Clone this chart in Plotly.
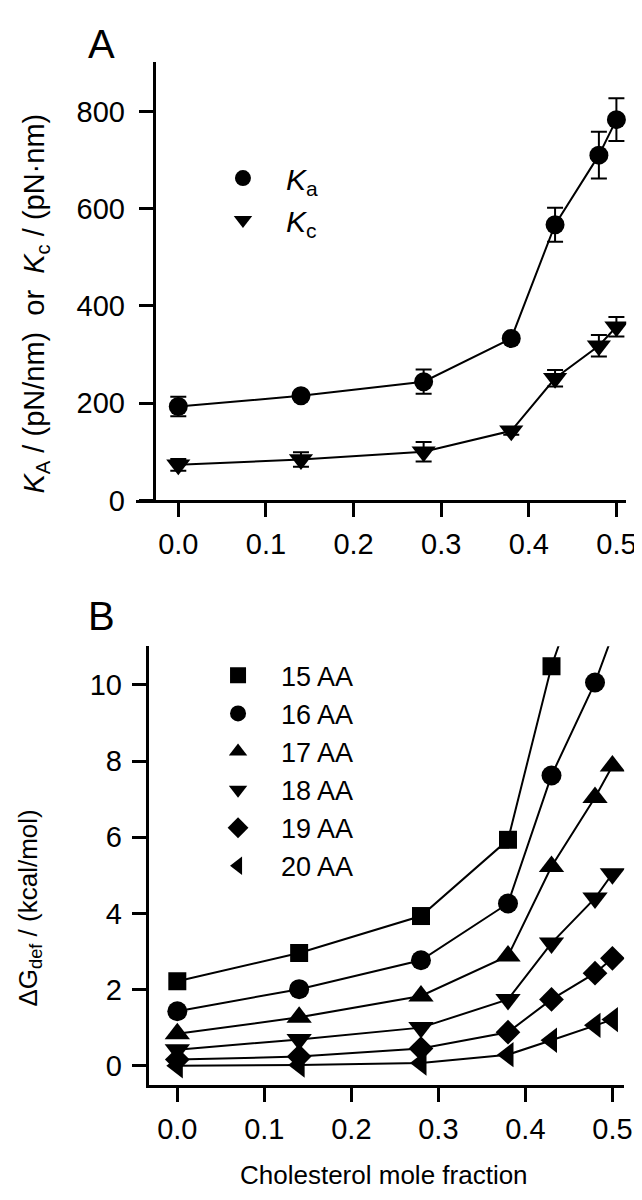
import plotly.graph_objects as go

# ---------------- data ----------------
chol = [0.0, 0.14, 0.28, 0.38, 0.43, 0.48, 0.50]

# Panel A
Ka = [193, 215, 244, 333, 567, 710, 783]
Ka_err = [20, 8, 25, 8, 35, 48, 44]
Kc = [73, 84, 100, 143, 251, 318, 357]
Kc_err = [12, 15, 20, 8, 17, 22, 20]

# Panel B (deformation free energy, kcal/mol)
names_B = ["15 AA", "16 AA", "17 AA", "18 AA", "19 AA", "20 AA"]
AA15 = [2.22, 2.96, 3.93, 5.93, 10.49, 13.7, 15.1]
AA16 = [1.43, 2.01, 2.77, 4.26, 7.62, 10.06, 11.3]
AA17 = [0.84, 1.27, 1.83, 2.88, 5.23, 7.04, 7.87]
AA18 = [0.42, 0.69, 1.00, 1.74, 3.22, 4.40, 5.04]
AA19 = [0.16, 0.24, 0.45, 0.88, 1.74, 2.43, 2.82]
AA20 = [0.00, 0.02, 0.07, 0.29, 0.67, 1.06, 1.21]
series_B = [AA15, AA16, AA17, AA18, AA19, AA20]
symbols_B = ["square", "circle", "triangle-up", "triangle-down", "diamond", "triangle-left"]

x_ticks = [0.0, 0.1, 0.2, 0.3, 0.4, 0.5]
yA_ticks = [0, 200, 400, 600, 800]
yB_ticks = [0, 2, 4, 6, 8, 10]

# ---------------- figure ----------------
W, H = 642, 1200
FONT = "Liberation Sans, Arial, sans-serif"
fig = go.Figure()

SIZES = {"square": 18, "circle": 20, "diamond": 19,
         "triangle-up": 22, "triangle-down": 22, "triangle-left": 22}

# Panel A traces
fig.add_trace(go.Scatter(
    x=chol, y=Ka, mode="lines+markers", xaxis="x", yaxis="y",
    line=dict(color="black", width=2),
    marker=dict(symbol="circle", size=19, color="black"),
    error_y=dict(type="data", array=Ka_err, color="black", thickness=2, width=8),
    showlegend=False))
fig.add_trace(go.Scatter(
    x=chol, y=Kc, mode="lines+markers", xaxis="x", yaxis="y",
    line=dict(color="black", width=2),
    marker=dict(symbol="triangle-down", size=21, color="black"),
    error_y=dict(type="data", array=Kc_err, color="black", thickness=2, width=8),
    showlegend=False))
# legend-only entries for panel A
for sym, nm in [("circle", "<i>K</i><sub>a</sub>"), ("triangle-down", "<i>K</i><sub>c</sub>")]:
    fig.add_trace(go.Scatter(x=[None], y=[None], mode="markers", xaxis="x", yaxis="y",
                             marker=dict(symbol=sym, size=SIZES[sym], color="black"),
                             name=nm, legend="legend", showlegend=True))

# Panel B traces
for vals, sym, nm in zip(series_B, symbols_B, names_B):
    fig.add_trace(go.Scatter(
        x=chol, y=vals, mode="lines+markers", xaxis="x2", yaxis="y2",
        line=dict(color="black", width=2),
        marker=dict(symbol=sym, size=SIZES[sym], color="black"),
        showlegend=False))
for sym, nm in zip(symbols_B, names_B):
    fig.add_trace(go.Scatter(x=[None], y=[None], mode="markers", xaxis="x2", yaxis="y2",
                             marker=dict(symbol=sym, size=SIZES[sym], color="black"),
                             name=nm, legend="legend2", showlegend=True))

axis_common = dict(showline=True, linecolor="black", linewidth=3, ticks="outside",
                   ticklen=14, tickwidth=3, tickcolor="black", showgrid=False,
                   zeroline=False, tickfont=dict(family=FONT, size=29, color="black"))

def ann(text, px, py, size, angle=0):
    return dict(text=text, x=px / W, y=1 - py / H, xref="paper", yref="paper",
                xanchor="center", yanchor="middle", textangle=angle,
                showarrow=False, font=dict(family=FONT, size=size, color="black"))

fig.update_layout(
    width=W, height=H,
    margin=dict(l=0, r=0, t=0, b=0),
    paper_bgcolor="white", plot_bgcolor="white",
    xaxis=dict(domain=[130 / W, 628 / W], range=[-0.0483, 0.5112], anchor="y",
               tickvals=x_ticks, tickformat=".1f", ticklabelstandoff=2, **axis_common),
    yaxis=dict(domain=[1 - 499 / H, 1 - 55 / H], range=[0, 901], anchor="free",
               position=148 / W, tickvals=yA_ticks, ticklabelstandoff=8, **axis_common),
    xaxis2=dict(domain=[143 / W, 626 / W], range=[-0.0328, 0.5136], anchor="y2",
                tickvals=x_ticks, tickformat=".1f", ticklabelstandoff=2, **axis_common),
    yaxis2=dict(domain=[1 - 1092 / H, 1 - 647 / H], range=[-0.518, 11.01], anchor="x2",
                tickvals=yB_ticks, ticklabelstandoff=4, **axis_common),
    legend=dict(x=195 / W, y=1 - 146 / H, xanchor="left", yanchor="top",
                bgcolor="rgba(0,0,0,0)", borderwidth=0, itemwidth=76,
                itemsizing="trace", tracegroupgap=0,
                font=dict(family=FONT, size=30, color="black")),
    legend2=dict(x=190 / W, y=1 - 652 / H, xanchor="left", yanchor="top",
                 bgcolor="rgba(0,0,0,0)", borderwidth=0, itemwidth=76,
                 itemsizing="trace", tracegroupgap=0,
                 font=dict(family=FONT, size=27, color="black")),
    annotations=[
        ann("A", 95, 36, 40),
        ann("B", 95, 616, 40),
        ann("<i>K</i><sub>A</sub> / (pN/nm)  or  <i>K</i><sub>c</sub> / (pN·nm)", 28, 300, 29, -90),
        ann("ΔG<sub>def</sub> / (kcal/mol)", 22, 912, 26, -90),
        ann("Cholesterol mole fraction", 382, 1183, 26),
    ],
)

fig.write_html("out.html")
